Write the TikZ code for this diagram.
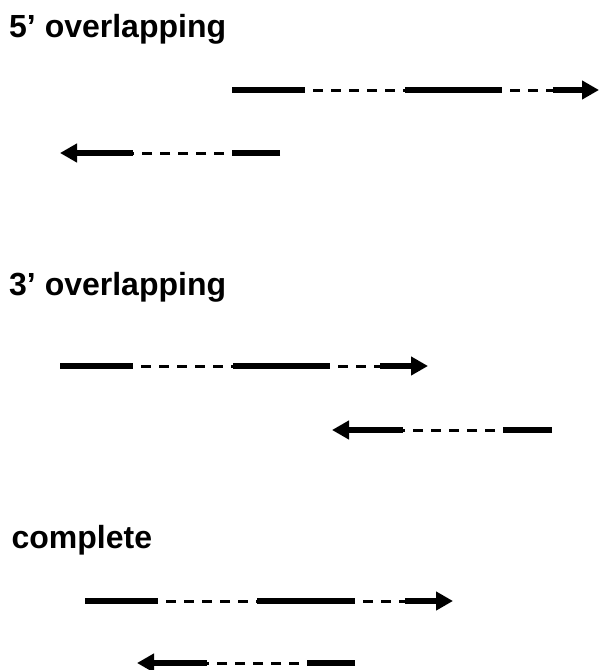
\documentclass[tikz,border=0pt]{standalone}
\usepackage{fontspec}
\setmainfont{Liberation Sans}
\usetikzlibrary{arrows.meta}
\begin{document}
\begin{tikzpicture}[x=1pt,y=-1pt,
  title/.style={anchor=base west, inner sep=0pt, font=\fontsize{32}{36}\selectfont\bfseries},
  solidpart/.style={line width=6pt},
  gappart/.style={line width=3pt, dash pattern=on 10pt off 8pt, dash phase=10pt},
  headtip/.style={-{Triangle[length=17pt,width=18pt]}}
]
\useasboundingbox (0,0) rectangle (601,670);

% section titles
\node[title] (t5) at (9,37) {5’ overlapping};
\node[title] (t3) at (9,295) {3’ overlapping};
\node[title] (tc) at (11.4,548) {complete};

% 5' overlapping: forward read
\coordinate (a1) at (232,90);
\coordinate (b1) at (305,90);
\coordinate (c1) at (405,90);
\coordinate (d1) at (502,90);
\coordinate (e1) at (553,90);
\coordinate (f1) at (599,90);
\draw[solidpart] (a1) -- (b1);
\draw[gappart] (b1) -- (c1);
\draw[solidpart] (c1) -- (d1);
\draw[gappart] (d1) -- (e1);
\draw[solidpart, headtip] (e1) -- (f1);

% 5' overlapping: reverse read
\coordinate (a2) at (280,153);
\coordinate (b2) at (232,153);
\coordinate (c2) at (133,153);
\coordinate (d2) at (60,153);
\draw[solidpart] (a2) -- (b2);
\draw[gappart] (b2) -- (c2);
\draw[solidpart, headtip] (c2) -- (d2);

% 3' overlapping: forward read
\coordinate (a3) at (60,366);
\coordinate (b3) at (133,366);
\coordinate (c3) at (233,366);
\coordinate (d3) at (330,366);
\coordinate (e3) at (380,366);
\coordinate (f3) at (428,366);
\draw[solidpart] (a3) -- (b3);
\draw[gappart] (b3) -- (c3);
\draw[solidpart] (c3) -- (d3);
\draw[gappart] (d3) -- (e3);
\draw[solidpart, headtip] (e3) -- (f3);

% 3' overlapping: reverse read
\coordinate (a4) at (552,430);
\coordinate (b4) at (503,430);
\coordinate (c4) at (403,430);
\coordinate (d4) at (332,430);
\draw[solidpart] (a4) -- (b4);
\draw[gappart] (b4) -- (c4);
\draw[solidpart, headtip] (c4) -- (d4);

% complete: forward read
\coordinate (a5) at (85,601);
\coordinate (b5) at (158,601);
\coordinate (c5) at (257,601);
\coordinate (d5) at (355,601);
\coordinate (e5) at (405,601);
\coordinate (f5) at (453,601);
\draw[solidpart] (a5) -- (b5);
\draw[gappart] (b5) -- (c5);
\draw[solidpart] (c5) -- (d5);
\draw[gappart] (d5) -- (e5);
\draw[solidpart, headtip] (e5) -- (f5);

% complete: reverse read
\coordinate (a6) at (355,663);
\coordinate (b6) at (307,663);
\coordinate (c6) at (207,663);
\coordinate (d6) at (137,663);
\draw[solidpart] (a6) -- (b6);
\draw[gappart] (b6) -- (c6);
\draw[solidpart, headtip] (c6) -- (d6);
\end{tikzpicture}
\end{document}
